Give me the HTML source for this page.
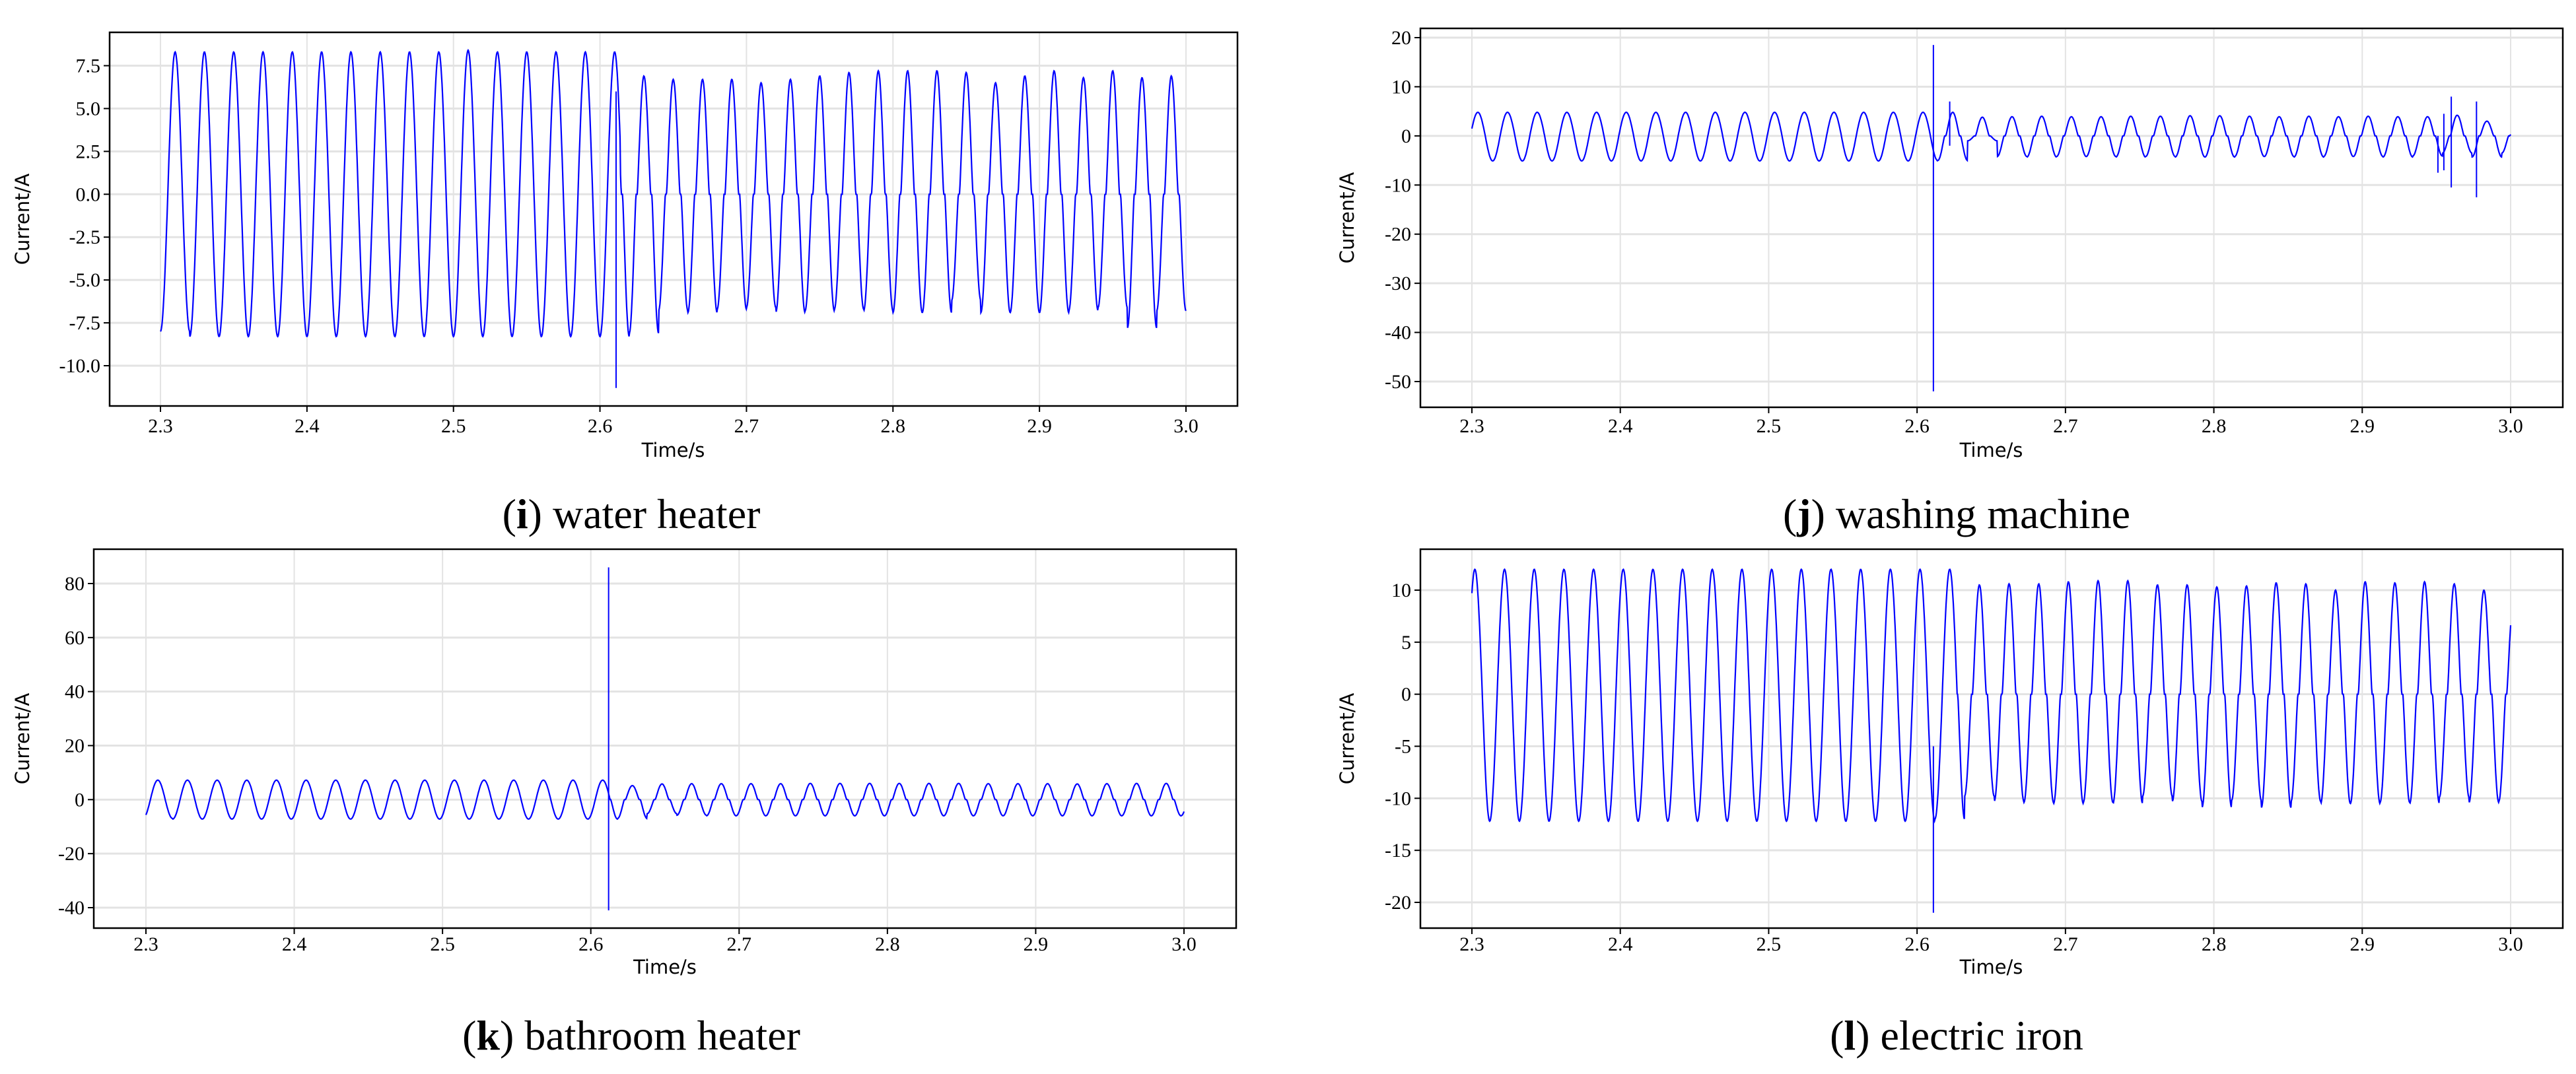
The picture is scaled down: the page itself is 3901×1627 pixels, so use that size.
<!DOCTYPE html>
<html><head><meta charset="utf-8"><style>
html,body{margin:0;padding:0;background:#fff}
svg{display:block}
.tk{font-family:"Liberation Serif",serif;font-size:30px;fill:#000}
.lab{font-family:"DejaVu Sans","Liberation Sans",sans-serif;font-size:29px;fill:#000}
.cap{font-family:"Liberation Serif",serif;font-size:64px;fill:#000}
</style></head><body>
<svg id="fig" width="3901" height="1627" viewBox="0 0 3901 1627" xmlns="http://www.w3.org/2000/svg"></svg>
<script>
// ---- data ----
const xTicks = [2.3, 2.4, 2.5, 2.6, 2.7, 2.8, 2.9, 3.0];
const xTickLabels = ["2.3","2.4","2.5","2.6","2.7","2.8","2.9","3.0"];
const yTicksI = [-10, -7.5, -5, -2.5, 0, 2.5, 5, 7.5];
const yTickLabelsI = ["-10.0","-7.5","-5.0","-2.5","0.0","2.5","5.0","7.5"];
const yTicksJ = [-50, -40, -30, -20, -10, 0, 10, 20];
const yTicksK = [-40, -20, 0, 20, 40, 60, 80];
const yTicksL = [-20, -15, -10, -5, 0, 5, 10];
// per-cycle peaks / troughs (36 cycles)
const peaksI = [8.3,8.3,8.3,8.3,8.3,8.3,8.3,8.3,8.3,8.3,8.4,8.3,8.3,8.3,8.3,8.3,6.9,6.7,6.7,6.7,6.5,6.7,6.9,7.1,7.2,7.2,7.2,7.1,6.5,6.9,7.2,6.8,7.2,6.8,6.9,6.9];
const troughsI = [-8.0,-8.3,-8.3,-8.3,-8.3,-8.3,-8.3,-8.3,-8.3,-8.3,-8.3,-8.3,-8.3,-8.3,-8.3,-8.3,-8.1,-6.8,-6.9,-6.7,-6.6,-6.9,-6.8,-6.7,-6.8,-6.9,-6.9,-6.2,-6.9,-6.9,-6.9,-6.8,-6.6,-7.8,-6.8,-6.8];
const peaksJ = [4.8,4.8,4.8,4.8,4.8,4.8,4.8,4.8,4.8,4.8,4.8,4.8,4.8,4.8,4.8,4.8,4.8,3.8,3.9,4.0,3.9,3.9,4.0,4.0,4.1,4.1,4.0,3.9,4.0,3.9,4.0,3.9,3.9,4.2,3.0,2.0];
const troughsJ = [-5.1,-5.1,-5.1,-5.1,-5.1,-5.1,-5.1,-5.1,-5.1,-5.1,-5.1,-5.1,-5.1,-5.1,-5.1,-5.1,-5.0,-1.0,-4.2,-4.3,-4.2,-4.2,-4.3,-4.2,-4.3,-4.3,-4.2,-4.2,-4.3,-4.2,-4.2,-4.3,-4.1,-3.5,-4.3,-3.5];
const peaksK = [7.2,7.2,7.2,7.2,7.2,7.2,7.2,7.2,7.2,7.2,7.2,7.2,7.2,7.2,7.2,7.2,5.2,5.8,5.9,5.9,5.9,5.9,6.0,6.0,6.0,6.0,6.0,6.0,5.9,5.9,5.9,5.8,5.9,6.0,6.0,6.0];
const troughsK = [-7.0,-7.2,-7.2,-7.2,-7.2,-7.2,-7.2,-7.2,-7.2,-7.2,-7.2,-7.2,-7.2,-7.2,-7.2,-7.2,-7.0,-5.2,-5.8,-6.0,-6.0,-6.0,-6.0,-6.0,-6.0,-6.0,-6.0,-6.0,-6.0,-6.0,-6.0,-6.0,-6.0,-6.0,-6.0,-6.0];
const peaksL = [12.0,12.0,12.0,12.0,12.0,12.0,12.0,12.0,12.0,12.0,12.0,12.0,12.0,12.0,12.0,12.0,12.0,10.5,10.6,10.6,10.8,10.9,10.9,10.5,10.5,10.3,10.4,10.7,10.6,10.0,10.8,10.7,10.8,10.6,10.0,9.0];
const troughsL = [-12.2,-12.2,-12.2,-12.2,-12.2,-12.2,-12.2,-12.2,-12.2,-12.2,-12.2,-12.2,-12.2,-12.2,-12.2,-12.2,-12.0,-9.8,-10.3,-10.4,-10.5,-10.4,-10.5,-9.8,-10.3,-10.9,-10.2,-10.9,-10.3,-10.5,-10.5,-10.4,-10.5,-9.9,-10.4,-10.3];
const spikeTimesI = [2.611]; const spikeHiI = [6]; const spikeLoI = [-11.3];
const spikeTimesJ = [2.611, 2.622, 2.951, 2.955, 2.960, 2.977]; const spikeHiJ = [18.5, 7, 0, 4.5, 8, 7]; const spikeLoJ = [-52, -2, -7.5, -7, -10.5, -12.5];
const spikeTimesK = [2.612]; const spikeHiK = [86]; const spikeLoK = [-41];
const spikeTimesL = [2.611]; const spikeHiL = [-5]; const spikeLoL = [-21];

const panels = [
 {id:'water-heater', L:166,R:1874,T:49,B:615, x0px:243,x1px:1796, ya:7.5,yap:99.5,yb:-10,ybp:554, yt:yTicksI, ytl:yTickLabelsI,
  peaks:peaksI, troughs:troughsI, t0:2.300, sw:2.614, tEnd:3.0, st:spikeTimesI, sh:spikeHiI, sl:spikeLoI,
  ylabX:44, xlabY:692, tickY:655, capX:956, capY:800, letter:'i', name:'water heater'},
 {id:'washing-machine', L:2151,R:3881,T:43,B:617, x0px:2229,x1px:3802, ya:20,yap:57,yb:-50,ybp:578, yt:yTicksJ, ytl:null,
  peaks:peaksJ, troughs:troughsJ, t0:2.294, sw:2.613, tEnd:3.0, st:spikeTimesJ, sh:spikeHiJ, sl:spikeLoJ,
  ylabX:2050, xlabY:692, tickY:655, capX:2963, capY:800, letter:'j', name:'washing machine'},
 {id:'bathroom-heater', L:142,R:1872,T:832,B:1406, x0px:221,x1px:1793, ya:80,yap:884,yb:-40,ybp:1375, yt:yTicksK, ytl:null,
  peaks:peaksK, troughs:troughsK, t0:2.298, sw:2.613, tEnd:3.0, st:spikeTimesK, sh:spikeHiK, sl:spikeLoK,
  ylabX:44, xlabY:1475, tickY:1440, capX:956, capY:1590, letter:'k', name:'bathroom heater'},
 {id:'electric-iron', L:2151,R:3881,T:832,B:1406, x0px:2229,x1px:3802, ya:10,yap:894,yb:-20,ybp:1367, yt:yTicksL, ytl:null,
  peaks:peaksL, troughs:troughsL, t0:2.292, sw:2.627, tEnd:3.0, st:spikeTimesL, sh:spikeHiL, sl:spikeLoL,
  ylabX:2050, xlabY:1475, tickY:1440, capX:2963, capY:1590, letter:'l', name:'electric iron'}
];
const NS='http://www.w3.org/2000/svg';
const fig=document.getElementById('fig');
function mk(tag,attrs,parent){const e=document.createElementNS(NS,tag);for(const k in attrs)e.setAttribute(k,attrs[k]);parent.appendChild(e);return e;}

panels.forEach((p,pi)=>{
  const g=mk('g',{},fig);
  
  
  const xs=t=>p.x0px+(t-2.3)/(0.7)*(p.x1px-p.x0px);
  const ys=v=>p.yap+(v-p.ya)/(p.yb-p.ya)*(p.ybp-p.yap);
  xTicks.forEach(t=>{const l=mk('line',{x1:xs(t),x2:xs(t),y1:p.T,y2:p.B,stroke:'#e3e3e3','stroke-width':2},g);
    
    });
  p.yt.forEach(v=>{const l=mk('line',{x1:p.L,x2:p.R,y1:ys(v),y2:ys(v),stroke:'#e3e3e3','stroke-width':3},g);
    
    });
  const cp=mk('clipPath',{id:'clip'+pi},g); mk('rect',{x:p.L,y:p.T,width:p.R-p.L,height:p.B-p.T},cp);
  let d='';const N=36*60;
  for(let i=0;i<=N;i++){
    const t=2.3+0.7*i/N;
    let u=(t-p.t0)/0.02; let k=Math.floor(u); const ph=u-k; k=Math.max(0,Math.min(35,k));
    const s=-Math.cos(2*Math.PI*ph);
    let v;
    if(t<p.sw){ v = s>0 ? s*p.peaks[k] : -s*p.troughs[k]; }
    else { const a=Math.abs(s); const f=Math.pow(Math.max(0,(a-0.12)/0.88),1.25);
      v = s>0 ? f*p.peaks[k] : f*p.troughs[k]; }
    d+=(i?'L':'M')+xs(t).toFixed(1)+' '+ys(v).toFixed(1);
  }
  const path=mk('path',{d:d,fill:'none',stroke:'#0000ff','stroke-width':2.2,'clip-path':'url(#clip'+pi+')'},g);
  
  
  p.st.forEach((t,i)=>{const l=mk('line',{x1:xs(t),x2:xs(t),y1:ys(p.sh[i]),y2:ys(p.sl[i]),stroke:'#0000ff','stroke-width':2},g);
    
    });
  const fr=mk('rect',{x:p.L,y:p.T,width:p.R-p.L,height:p.B-p.T,fill:'none',stroke:'#000','stroke-width':2.5},g);
  
  
  xTicks.forEach((t,i)=>{mk('line',{x1:xs(t),x2:xs(t),y1:p.B,y2:p.B+9,stroke:'#000','stroke-width':2},g);
    const tx=mk('text',{x:xs(t),y:p.tickY,'text-anchor':'middle',class:'tk'},g);tx.textContent=xTickLabels[i];
    
    });
  p.yt.forEach((v,i)=>{mk('line',{x1:p.L-9,x2:p.L,y1:ys(v),y2:ys(v),stroke:'#000','stroke-width':2},g);
    const tx=mk('text',{x:p.L-14,y:ys(v)+10,'text-anchor':'end',class:'tk'},g);tx.textContent=p.ytl?p.ytl[i]:String(v);
    
    });
  const yl=mk('text',{x:p.ylabX,y:(p.T+p.B)/2,'text-anchor':'middle',class:'lab',transform:'rotate(-90 '+p.ylabX+' '+(p.T+p.B)/2+')'},g);
  yl.textContent='Current/A';
  
  
  const xl=mk('text',{x:(p.x0px+p.x1px)/2,y:p.xlabY,'text-anchor':'middle',class:'lab'},g);
  xl.textContent='Time/s';
  
  
  const cap=mk('text',{x:p.capX,y:p.capY,'text-anchor':'middle',class:'cap'},g);
  
  
  cap.appendChild(document.createTextNode('('));
  const b=mk('tspan',{'font-weight':'bold'},cap); b.textContent=p.letter;
  cap.appendChild(document.createTextNode(') '+p.name));
});
</script>
</body></html>
